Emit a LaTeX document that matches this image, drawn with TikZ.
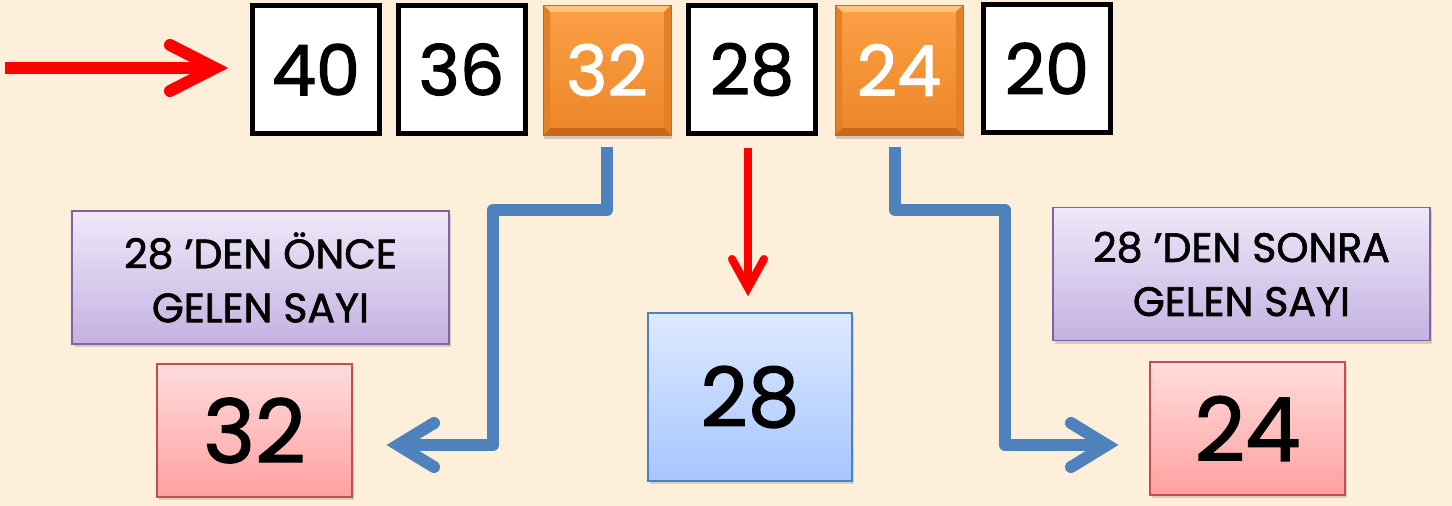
\documentclass[tikz,border=0pt]{standalone}
\usepackage{fontspec}
\setmainfont{Poppins}[FakeBold=1.6]
\usetikzlibrary{arrows.meta,shadows,calc}
\definecolor{bg}{RGB}{253,239,217}
\definecolor{redarr}{RGB}{255,0,0}
\definecolor{bluearr}{RGB}{79,129,189}
\definecolor{purpleB}{RGB}{128,100,162}
\definecolor{purpleT}{RGB}{238,232,248}
\definecolor{purpleBot}{RGB}{196,178,226}
\definecolor{pinkT}{RGB}{255,220,220}
\definecolor{pinkB}{RGB}{255,160,160}
\definecolor{pinkBorder}{RGB}{192,80,77}
\definecolor{lblueT}{RGB}{222,233,255}
\definecolor{lblueB}{RGB}{166,198,255}
\definecolor{orT}{RGB}{252,160,70}
\definecolor{orB}{RGB}{236,134,40}
\definecolor{orLight}{RGB}{255,196,120}
\definecolor{orDark}{RGB}{200,104,24}
\definecolor{orSide}{RGB}{228,128,40}
\begin{document}
\begin{tikzpicture}[x=1pt,y=-1pt,
  numbox/.style={draw=black,line width=5pt,fill=white,minimum width=127pt,minimum height=128pt,inner sep=0pt,font=\fontsize{70}{72}\selectfont},
  orbox/.style={draw=orDark,line width=0.6pt,top color=orT,bottom color=orB,minimum width=128pt,minimum height=130pt,inner sep=0pt,text=white,font=\fontsize{70}{72}\selectfont,drop shadow={shadow xshift=1pt,shadow yshift=-4pt,opacity=0.35},
    path picture={
      \fill[orLight] (path picture bounding box.north west) -- (path picture bounding box.north east) -- ([xshift=-7pt,yshift=-7pt]path picture bounding box.north east) -- ([xshift=7pt,yshift=-7pt]path picture bounding box.north west) -- cycle;
      \fill[orDark] (path picture bounding box.south west) -- (path picture bounding box.south east) -- ([xshift=-7pt,yshift=7pt]path picture bounding box.south east) -- ([xshift=7pt,yshift=7pt]path picture bounding box.south west) -- cycle;
      \fill[orSide] (path picture bounding box.north west) -- ([xshift=7pt,yshift=-7pt]path picture bounding box.north west) -- ([xshift=7pt,yshift=7pt]path picture bounding box.south west) -- (path picture bounding box.south west) -- cycle;
      \fill[orSide] (path picture bounding box.north east) -- ([xshift=-7pt,yshift=-7pt]path picture bounding box.north east) -- ([xshift=-7pt,yshift=7pt]path picture bounding box.south east) -- (path picture bounding box.south east) -- cycle;
    }},
  labbox/.style={draw=purpleB,line width=1.2pt,top color=purpleT,bottom color=purpleBot,minimum width=377pt,minimum height=133pt,inner sep=0pt,align=center,font=\fontsize{41}{54}\selectfont,drop shadow={shadow xshift=2pt,shadow yshift=-3pt,opacity=0.3}},
  ansbox/.style={draw=pinkBorder,line width=1.2pt,top color=pinkT,bottom color=pinkB,minimum width=195pt,minimum height=133pt,inner sep=0pt,font=\fontsize{88}{90}\selectfont,drop shadow={shadow xshift=2pt,shadow yshift=-3pt,opacity=0.3}},
  midbox/.style={draw=bluearr,line width=1.2pt,top color=lblueT,bottom color=lblueB,minimum width=204pt,minimum height=168pt,inner sep=0pt,font=\fontsize{82}{84}\selectfont,drop shadow={shadow xshift=2pt,shadow yshift=-3pt,opacity=0.3}},
  redconn/.style={draw=redarr,line width=12pt,line cap=butt},
  reddown/.style={draw=redarr,line width=8pt,line cap=butt},
  blueconn/.style={draw=bluearr,line width=12pt,line join=round,line cap=butt},
  chevron/.style={line cap=round,line join=miter,miter limit=10}
]
\fill[bg] (0,0) rectangle (1452,506);
\useasboundingbox (0,0) rectangle (1452,506);
% top row
\node[numbox] (b40) at (316,69.5) {40};
\node[numbox] (b36) at (461.5,69.5) {36};
\node[orbox] (b32) at (607,70) {32};
\node[numbox] (b28) at (752,69.5) {28};
\node[orbox] (b24) at (899,70) {24};
\node[numbox] (b20) at (1047,68.5) {20};
% labels
\node[labbox] (lab1) at (260.5,277.5) {28 'DEN ÖNCE\\GELEN SAYI};
\node[labbox] (lab2) at (1241.5,274) {28 'DEN SONRA\\GELEN SAYI};
% answers
\node[ansbox] (r32) at (254.5,430.5) {32};
\node[ansbox] (r24) at (1247.5,428.5) {24};
\node[midbox] (m28) at (750,397) {28};
% coordinates
\coordinate (start) at (5,68);
\coordinate (rtip) at (215,68);
\coordinate (dtip) at (748,288);
\coordinate (lt) at (398,445);
\coordinate (rt) at (1107,445);
% connectors
\draw[redconn, shorten >=4pt] (start) -- (rtip);
\draw[redarr, line width=12pt, chevron] ($(rtip)+(-45,-23)$) -- (rtip) -- ($(rtip)+(-45,23)$);
\draw[reddown, shorten <=12pt, shorten >=3pt] (dtip |- b28.south) -- (dtip);
\draw[redarr, line width=8pt, chevron] ($(dtip)+(-16,-29)$) -- (dtip) -- ($(dtip)+(16,-29)$);
\draw[blueconn, shorten <=12pt, shorten >=4pt] (b32.south) |- (493,210) -- (493,445) -- (lt);
\draw[bluearr, line width=12pt, chevron] ($(lt)+(36,-22)$) -- (lt) -- ($(lt)+(36,22)$);
\draw[blueconn, shorten <=12pt, shorten >=4pt] (895,0 |- b24.south) |- (1005,210) -- (1005,445) -- (rt);
\draw[bluearr, line width=12pt, chevron] ($(rt)+(-36,-22)$) -- (rt) -- ($(rt)+(-36,22)$);
\end{tikzpicture}
\end{document}
